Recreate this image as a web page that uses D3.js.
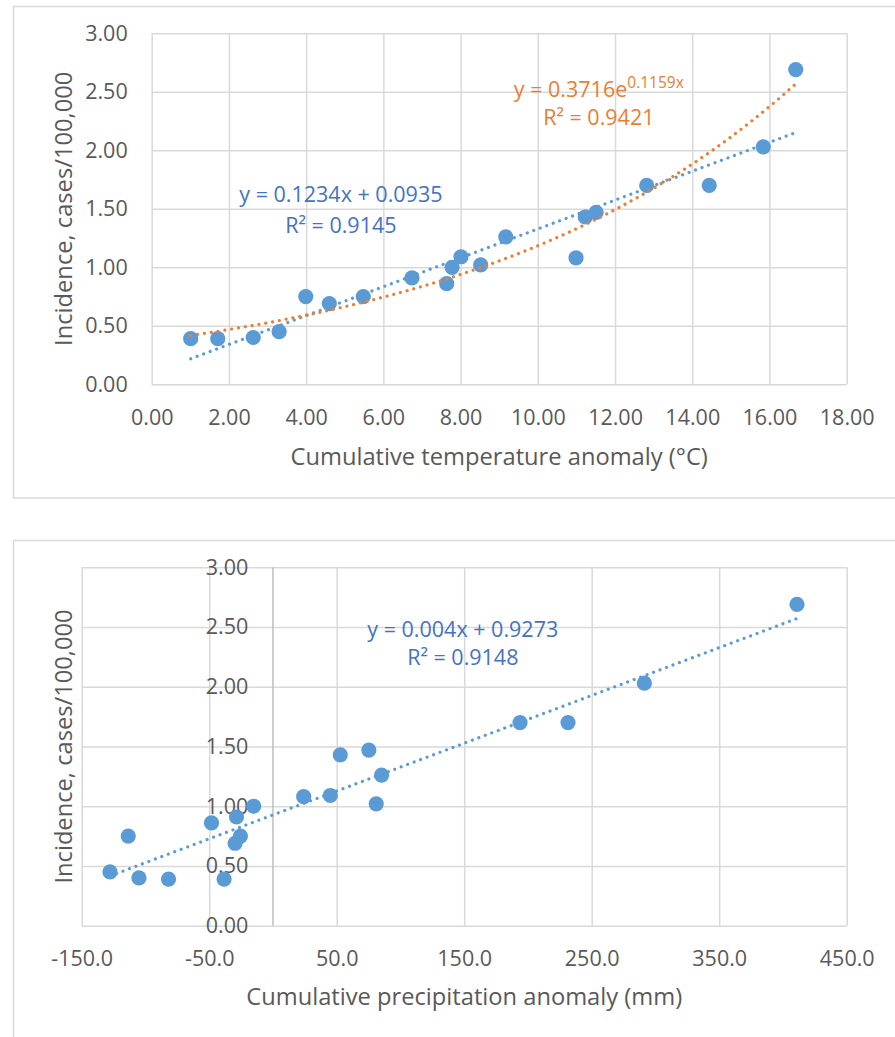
<!DOCTYPE html>
<html><head><meta charset="utf-8">
<script src="https://cdn.jsdelivr.net/npm/d3@7"></script>
<style>body{margin:0;background:#fff}svg{display:block}</style>
</head><body>
<script>
// ---- data ----
const incidence = [0.39,0.39,0.40,0.45,0.75,0.69,0.75,0.91,0.86,1.00,1.09,1.02,1.26,1.08,1.43,1.47,1.70,1.70,2.03,2.69];
const temperatureAnomaly = [1.01,1.71,2.63,3.30,3.99,4.60,5.48,6.74,7.64,7.78,8.01,8.52,9.17,10.99,11.23,11.51,12.82,14.44,15.84,16.68];
const precipitationAnomaly = [-81.9,-38.3,-105.1,-127.8,-113.5,-29.7,-25.5,-28.6,-48.2,-15.1,45.0,81.0,85.2,24.1,52.8,75.2,193.8,231.4,291.3,411.0];
const incidenceTicks = [0,0.5,1,1.5,2,2.5,3];
const temperatureTicks = [0,2,4,6,8,10,12,14,16,18];
const precipitationTicks = [-150,-50,50,150,250,350,450];
const tempLinear = [0.1234, 0.0935];      // slope, intercept
const tempExp = [0.3716, 0.1159];         // a, b  (y = a e^{bx})
const precipLinear = [0.004, 0.9273];     // slope, intercept
const labelsTop = ["y = 0.1234x + 0.0935", "R² = 0.9145"];
const labelsTopExp = ["y = 0.3716e", "0.1159x", "R² = 0.9421"];
const labelsBottom = ["y = 0.004x + 0.9273", "R² = 0.9148"];
const yTitle = "Incidence, cases/100,000";
const xTitleTop = "Cumulative temperature anomaly (°C)";
const xTitleBottom = "Cumulative precipitation anomaly (mm)";

// ---- style ----
const FONT = "'Open Sans', sans-serif";
const GRID = "#D9D9D9", TXT = "#595959", BLUE = "#5B9BD5", DBLUE = "#4472C4", ORANGE = "#ED7D31";
const W = 895, H = 1037;
const fmt2 = v => d3.format(".2f")(v).replace("\u2212","-");
const fmt1 = v => d3.format(".1f")(v).replace("\u2212","-");
const svg = d3.select("body").append("svg").attr("width", W).attr("height", H);

// chart frames
svg.append("rect").attr("x",13.5).attr("y",6.5).attr("width",900).attr("height",491.5)
  .attr("fill","none").attr("stroke",GRID).attr("stroke-width",1.5);
svg.append("rect").attr("x",13.5).attr("y",540.5).attr("width",900).attr("height",520)
  .attr("fill","none").attr("stroke",GRID).attr("stroke-width",1.5);

function styleAxis(g){
  g.select(".domain").remove();
  g.selectAll("line").attr("stroke",GRID).attr("stroke-width",1.5);
  g.selectAll("text").attr("fill",TXT).style("font-family",FONT).style("font-size","21.5px");
}
function dotted(sel,color){
  sel.attr("fill","none").attr("stroke",color).attr("stroke-width",3.2)
    .attr("stroke-linecap","round").attr("stroke-dasharray","0.01 6.9");
}

// ================= TOP CHART =================
{
  const L=151.7,R=846.7,T=33.3,B=384.3;
  const x = d3.scaleLinear().domain([0,18]).range([L,R]);
  const y = d3.scaleLinear().domain([0,3]).range([B,T]);
  svg.append("g").attr("transform",`translate(0,${B})`)
    .call(d3.axisBottom(x).tickValues(temperatureTicks).tickSize(-(B-T)).tickFormat(""))
    .call(styleAxis);
  svg.append("g").attr("transform",`translate(${L},0)`)
    .call(d3.axisLeft(y).tickValues(incidenceTicks).tickSize(-(R-L)).tickPadding(24).tickFormat(fmt2))
    .call(styleAxis);
  svg.append("g").attr("transform",`translate(0,${B})`)
    .call(d3.axisBottom(x).tickValues(temperatureTicks).tickSize(0).tickFormat(fmt2))
    .call(styleAxis)
    .call(g=>g.selectAll("text").attr("y",40.7).attr("dy",null));
  svg.append("text").attr("x",(L+R)/2).attr("y",465).attr("text-anchor","middle")
    .attr("fill",TXT).style("font-family",FONT).style("font-size","23.7px").text(xTitleTop);
  svg.append("text").attr("transform",`translate(71.5,${(T+B)/2}) rotate(-90)`).attr("text-anchor","middle")
    .attr("fill",TXT).style("font-family",FONT).style("font-size","23.7px").text(yTitle);
  svg.append("g").selectAll("circle").data(d3.range(incidence.length)).join("circle")
    .attr("cx",i=>x(temperatureAnomaly[i])).attr("cy",i=>y(incidence[i])).attr("r",7.6).attr("fill",BLUE);
  const [xmin,xmax] = d3.extent(temperatureAnomaly);
  const lin = [xmin,xmax].map(v=>[v, tempLinear[0]*v+tempLinear[1]]);
  svg.append("path").attr("d",d3.line().x(d=>x(d[0])).y(d=>y(d[1]))(lin)).call(dotted,BLUE);
  const expPts = d3.range(0,101).map(k=>{const v=xmin+(xmax-xmin)*k/100; return [v, tempExp[0]*Math.exp(tempExp[1]*v)];});
  svg.append("path").attr("d",d3.line().x(d=>x(d[0])).y(d=>y(d[1])).curve(d3.curveMonotoneX)(expPts)).call(dotted,ORANGE);
  const t1 = svg.append("text").attr("x",x(4.90)).attr("y",y(1.556)).attr("text-anchor","middle")
    .attr("fill",DBLUE).style("font-family",FONT).style("font-size","21.5px");
  t1.append("tspan").text(labelsTop[0]);
  t1.append("tspan").attr("x",x(4.90)).attr("dy",30.4).text(labelsTop[1]);
  const t2 = svg.append("text").attr("x",x(11.58)).attr("y",y(2.458)).attr("text-anchor","middle")
    .attr("fill",ORANGE).style("font-family",FONT).style("font-size","21.5px");
  t2.append("tspan").text(labelsTopExp[0]);
  t2.append("tspan").attr("dy",-9).style("font-size","15.5px").text(labelsTopExp[1]);
  svg.append("text").attr("x",x(11.58)).attr("y",y(2.458)+28.4).attr("text-anchor","middle")
    .attr("fill",ORANGE).style("font-family",FONT).style("font-size","21.5px").text(labelsTopExp[2]);
}

// ================= BOTTOM CHART =================
{
  const L=81.7,R=846.7,T=567.3,B=925.7;
  const x = d3.scaleLinear().domain([-150,450]).range([L,R]);
  const y = d3.scaleLinear().domain([0,3]).range([B,T]);
  svg.append("g").attr("transform",`translate(0,${B})`)
    .call(d3.axisBottom(x).tickValues(precipitationTicks).tickSize(-(B-T)).tickFormat(""))
    .call(styleAxis);
  svg.append("g").attr("transform",`translate(${L},0)`)
    .call(d3.axisLeft(y).tickValues(incidenceTicks).tickSize(-(R-L)).tickFormat(""))
    .call(styleAxis);
  svg.append("line").attr("x1",x(0)).attr("x2",x(0)).attr("y1",T).attr("y2",B)
    .attr("stroke","#BFBFBF").attr("stroke-width",1.5);
  svg.append("g").attr("transform",`translate(${x(0)},0)`)
    .call(d3.axisLeft(y).tickValues(incidenceTicks).tickSize(0).tickPadding(24.6).tickFormat(fmt2))
    .call(styleAxis);
  svg.append("g").attr("transform",`translate(0,${B})`)
    .call(d3.axisBottom(x).tickValues(precipitationTicks).tickSize(0).tickFormat(fmt1))
    .call(styleAxis)
    .call(g=>g.selectAll("text").attr("y",40.3).attr("dy",null));
  svg.append("text").attr("x",(L+R)/2).attr("y",1005).attr("text-anchor","middle")
    .attr("fill",TXT).style("font-family",FONT).style("font-size","23.7px").text(xTitleBottom);
  svg.append("text").attr("transform",`translate(71.5,${(T+B)/2}) rotate(-90)`).attr("text-anchor","middle")
    .attr("fill",TXT).style("font-family",FONT).style("font-size","23.7px").text(yTitle);
  svg.append("g").selectAll("circle").data(d3.range(incidence.length)).join("circle")
    .attr("cx",i=>x(precipitationAnomaly[i])).attr("cy",i=>y(incidence[i])).attr("r",7.6).attr("fill",BLUE);
  const [xmin,xmax] = d3.extent(precipitationAnomaly);
  const lin = [xmin,xmax].map(v=>[v, precipLinear[0]*v+precipLinear[1]]);
  svg.append("path").attr("d",d3.line().x(d=>x(d[0])).y(d=>y(d[1]))(lin)).call(dotted,BLUE);
  const t = svg.append("text").attr("x",x(148.9)).attr("y",y(2.419)).attr("text-anchor","middle")
    .attr("fill",DBLUE).style("font-family",FONT).style("font-size","21.5px");
  t.append("tspan").text(labelsBottom[0]);
  t.append("tspan").attr("x",x(148.9)).attr("dy",28.4).text(labelsBottom[1]);
}
</script>
</body></html>
